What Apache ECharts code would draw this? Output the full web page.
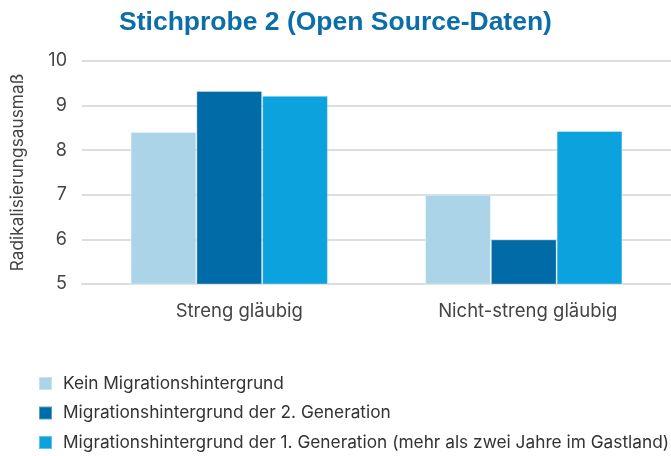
<!DOCTYPE html>
<html>
<head>
<meta charset="utf-8">
<script src="https://cdn.jsdelivr.net/npm/echarts@6/dist/echarts.min.js"></script>
<style>
html, body { margin: 0; padding: 0; background: #fff; }
#chart { width: 671px; height: 456px; }
</style>
</head>
<body>
<div id="chart"></div>
<script>
var categories = ['Streng gläubig', 'Nicht-streng gläubig'];
var seriesNames = [
    'Kein Migrationshintergrund',
    'Migrationshintergrund der 2. Generation',
    'Migrationshintergrund der 1. Generation (mehr als zwei Jahre im Gastland)'
];
var keinMigration = [8.41, 7.0];
var zweiteGeneration = [9.33, 6.0];
var ersteGeneration = [9.22, 8.43];
var colors = ['#abd4e9', '#006ba6', '#0ba2dd'];

var chart = echarts.init(document.getElementById('chart'));

// Balken je Gruppe
var values = [keinMigration, zweiteGeneration, ersteGeneration];
var series = values.map(function (d, i) {
    return {
        name: seriesNames[i],
        type: 'bar',
        data: d,
        barGap: '0%',
        barCategoryGap: '33%',
        itemStyle: { color: colors[i], borderColor: 'rgba(255,255,255,0.35)', borderWidth: 1 }
    };
});

chart.setOption({
    animation: false,
    textStyle: { fontFamily: 'Inter' },
    title: {
        text: 'Stichprobe 2 (Open Source-Daten)',
        left: 'center',
        top: 4,
        textStyle: {
            fontFamily: 'Liberation Sans',
            fontSize: 26.5,
            fontWeight: 'bold',
            color: '#0b6ea8'
        }
    },
    legend: {
        orient: 'vertical',
        left: 33,
        top: 370,
        height: 90,
        itemGap: 12.5,
        itemWidth: 13,
        itemHeight: 13,
        icon: 'rect',
        textStyle: { fontSize: 17.3, color: '#333', padding: [0, 0, 0, 6] },
        data: seriesNames
    },
    grid: {
        left: 82,
        right: 0,
        top: 61,
        bottom: 172,
        outerBoundsMode: 'none'
    },
    xAxis: {
        type: 'category',
        data: categories,
        axisTick: { show: false },
        axisLine: { show: true, lineStyle: { color: '#ddd', width: 2 } },
        axisLabel: {
            fontSize: 18.5,
            color: '#444',
            margin: 18,
            // Beschriftungen sitzen im Original leicht rechts der Balkenmitte
            formatter: function (v, i) { return '{c' + i + '|' + v + '}'; },
            rich: {
                c0: { fontSize: 18.5, color: '#444', padding: [0, 0, 0, 20] },
                c1: { fontSize: 18.5, color: '#444', padding: [0, 0, 0, 8] }
            }
        }
    },
    yAxis: {
        type: 'value',
        min: 5,
        max: 10,
        interval: 1,
        name: 'Radikalisierungsausmaß',
        nameLocation: 'middle',
        nameGap: 56,
        nameTextStyle: { fontSize: 17.3, color: '#444' },
        axisLabel: { fontSize: 18, color: '#444', margin: 15 },
        splitLine: { lineStyle: { color: '#ddd', width: 2 } }
    },
    series: series
});
</script>
</body>
</html>
